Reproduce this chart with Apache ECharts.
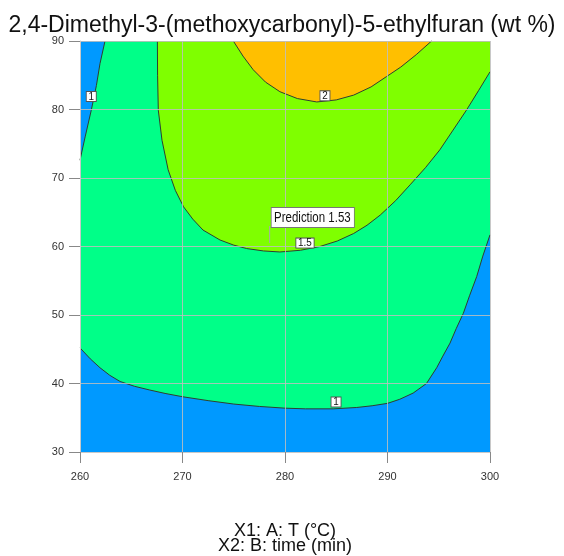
<!DOCTYPE html>
<html>
<head>
<meta charset="utf-8">
<script src="https://cdn.jsdelivr.net/npm/echarts@6/dist/echarts.min.js"></script>
<style>html,body{margin:0;padding:0;background:#fff}#c{width:564px;height:556px}</style>
</head>
<body>
<div id="c"></div>
<script>
// Axis ranges / ticks
var xRange = [260, 300];
var yRange = [30, 90];
var tickStep = 10;

// Contour "1" (upper-left branch), from left edge up to top edge
var contour1Left = [[260, 72.6], [260.5, 76.0], [261.1, 79.9], [261.6, 83.5], [261.95, 86.7], [262.44, 90]];
// Contour "1" (lower branch), from right edge to left edge
var contour1Bottom = [[300, 61.7], [299.3, 58.6], [298.7, 55.6], [298.0, 52.8], [297.4, 50.25], [296.7, 48.0], [296.1, 45.9], [295.4, 44.0], [294.8, 42.3], [293.8, 40.0], [292.5, 38.6], [291.2, 37.7], [290.0, 37.1], [288.5, 36.75], [287.0, 36.5], [284.7, 36.3], [282.0, 36.3], [280.0, 36.4], [277.5, 36.65], [275.0, 37.0], [272.5, 37.5], [270.0, 38.07], [268.3, 38.55], [266.8, 39.05], [265.3, 39.6], [263.9, 40.3], [262.9, 41.2], [261.95, 42.3], [261.0, 43.6], [260, 45.2]];
// Contour "1.5", from top edge (left) down and up to right edge
var contour15 = [[267.55, 90], [267.57, 85], [267.64, 79.9], [268.0, 75.5], [268.6, 71.2], [269.3, 68.2], [270.1, 65.8], [271.0, 64.0], [272.0, 62.4], [273.66, 60.95], [275.0, 60.2], [276.26, 59.7], [277.9, 59.35], [279.5, 59.2], [281.5, 59.45], [283.4, 60.0], [285.1, 60.8], [286.7, 61.9], [288.0, 63.1], [289.3, 64.6], [290.8, 66.7], [292.2, 69.0], [293.7, 71.5], [295.1, 74.1], [296.4, 77.0], [297.7, 79.9], [298.9, 82.8], [300, 85.5]];
// Contour "2", from top edge (left) to top edge (right)
var contour2 = [[274.96, 90], [275.9, 87.8], [276.9, 85.8], [278.1, 84.0], [279.5, 82.6], [281.2, 81.6], [283.1, 81.1], [285.0, 81.4], [286.7, 82.1], [288.4, 83.3], [289.9, 84.8], [291.3, 86.2], [292.8, 88.0], [294.3, 90]];

// Contour labels
var contourLabels = [["1", 261.1, 81.9], ["2", 283.9, 82.0], ["1.5", 281.95, 60.5], ["1", 284.98, 37.3]];
// Prediction point
var predPoint = [278.5, 60.5];
var predText = "Prediction 1.53";

var colors = {blue: '#0099ff', green: '#00ff88', lime: '#7fff00', orange: '#ffbf00'};

var corners = {tl: [xRange[0], yRange[1]], tr: [xRange[1], yRange[1]], br: [xRange[1], yRange[0]], bl: [xRange[0], yRange[0]]};

var regionBlue = [corners.bl, corners.br, corners.tr, corners.tl];
var regionGreen = [].concat(contour1Left, [corners.tr], contour1Bottom);
var regionLime = [].concat(contour15, [corners.tr]);
var regionOrange = contour2.slice();

function polySeries(pts, color, z) {
  return {
    type: 'custom', z: z, silent: true,
    data: [[0]],
    renderItem: function (params, api) {
      return {type: 'polygon', shape: {points: pts.map(function (p) { return api.coord(p); })},
        style: {fill: color, stroke: null}};
    }
  };
}
function lineSeries(pts, z) {
  return {
    type: 'custom', z: z, silent: true,
    data: [[0]],
    renderItem: function (params, api) {
      return {type: 'polyline', shape: {points: pts.map(function (p) { return api.coord(p); })},
        style: {fill: null, stroke: '#2f3f2f', lineWidth: 1}};
    }
  };
}

var chart = echarts.init(document.getElementById('c'), null, {renderer: 'canvas'});
var option = {
  animation: false,
  title: {
    text: '2,4-Dimethyl-3-(methoxycarbonyl)-5-ethylfuran (wt %)',
    left: 'center', top: 9,
    textStyle: {fontFamily: 'Liberation Sans, Arial', fontSize: 23, fontWeight: 'normal', color: '#111'}
  },
  grid: {left: 80, top: 41, width: 410, height: 411, containLabel: false, outerBoundsMode: 'none'},
  xAxis: {
    type: 'value', min: xRange[0], max: xRange[1], interval: tickStep, z: 10,
    axisLine: {show: true, lineStyle: {color: '#c8c8c8'}},
    axisTick: {show: true, length: 11, lineStyle: {color: '#888'}},
    axisLabel: {margin: 19, fontSize: 11, color: '#333', fontFamily: 'Liberation Sans, Arial'},
    splitLine: {show: true, lineStyle: {color: 'rgba(190,190,190,0.85)', width: 1}},
    name: 'X1: A: T (°C)\nX2: B: time (min)',
    nameLocation: 'middle', nameGap: 72,
    nameTextStyle: {fontSize: 18, lineHeight: 15, color: '#111', fontFamily: 'Liberation Sans, Arial', verticalAlign: 'top'}
  },
  yAxis: {
    type: 'value', min: yRange[0], max: yRange[1], interval: tickStep, z: 10,
    axisLine: {show: true, lineStyle: {color: '#c8c8c8'}},
    axisTick: {show: true, length: 11, lineStyle: {color: '#888'}},
    axisLabel: {margin: 16, fontSize: 11, color: '#333', fontFamily: 'Liberation Sans, Arial'},
    splitLine: {show: true, lineStyle: {color: 'rgba(190,190,190,0.85)', width: 1}}
  },
  series: [
    polySeries(regionBlue, colors.blue, 1),
    polySeries(regionGreen, colors.green, 2),
    polySeries(regionLime, colors.lime, 3),
    polySeries(regionOrange, colors.orange, 4),
    lineSeries(contour1Left, 5),
    lineSeries(contour1Bottom, 5),
    lineSeries(contour15, 5),
    lineSeries(contour2, 5),
    {
      type: 'custom', z: 20, silent: true,
      data: contourLabels,
      renderItem: function (params, api) {
        var p = api.coord([api.value(1), api.value(2)]);
        return {type: 'text', x: p[0], y: p[1], scaleX: 0.9,
          style: {text: contourLabels[params.dataIndex][0], fontSize: 11, fontFamily: 'Liberation Sans, Arial',
            fill: '#111', align: 'center', verticalAlign: 'middle',
            backgroundColor: '#fff', borderColor: '#555', borderWidth: 1, padding: [-1, 2, -1, 2]}};
      }
    },
    {
      type: 'custom', z: 21, silent: true,
      data: [predPoint],
      renderItem: function (params, api) {
        var p = api.coord([api.value(0), api.value(1)]);
        return {type: 'group', children: [
          {type: 'line', shape: {x1: p[0], y1: p[1], x2: p[0], y2: p[1] - 17}, style: {stroke: '#aaa', lineWidth: 1}},
          {type: 'text', x: p[0] + 2, y: p[1] - 16, scaleX: 0.82,
            style: {text: predText, fontSize: 14, fontFamily: 'Liberation Sans, Arial', fill: '#111',
              align: 'left', verticalAlign: 'bottom', backgroundColor: '#fff', borderColor: '#777', borderWidth: 1,
              padding: [3, 4, 2, 3]}}
        ]};
      }
    }
  ]
};
chart.setOption(option);
</script>
</body>
</html>
